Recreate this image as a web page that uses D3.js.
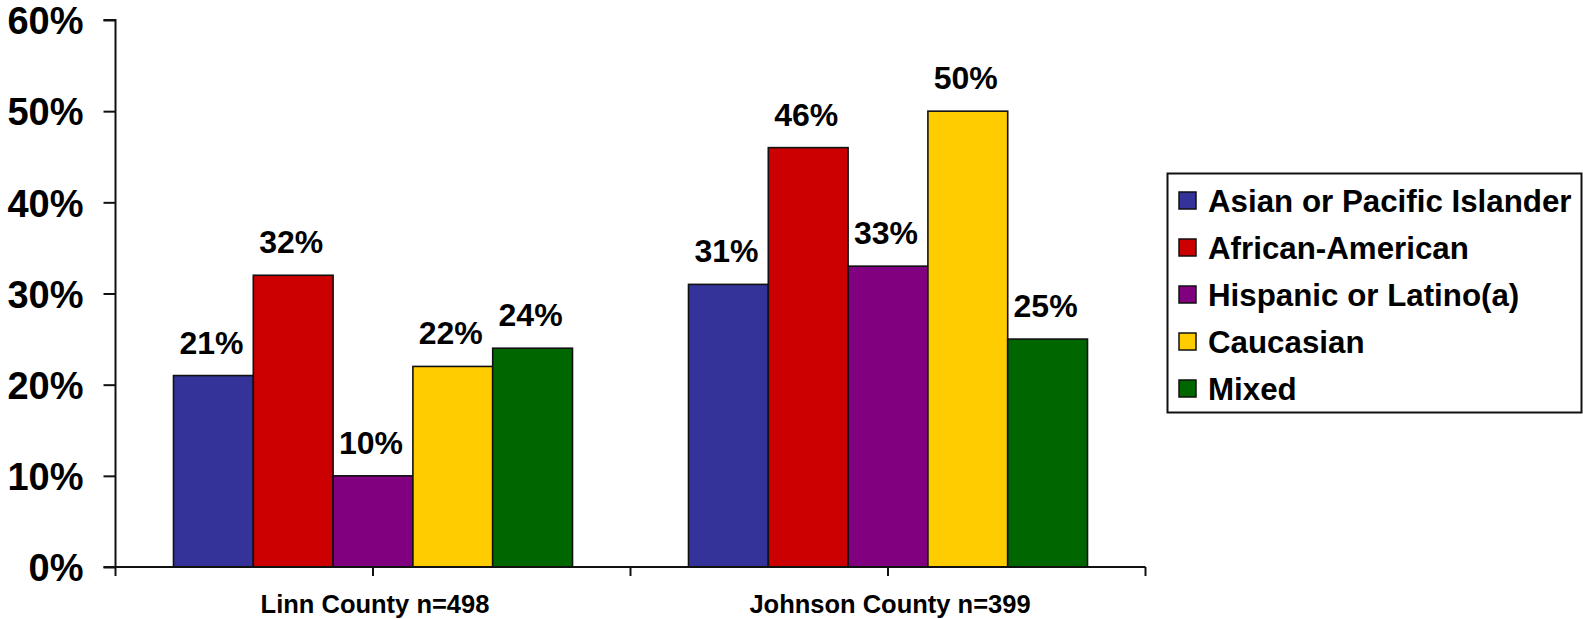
<!DOCTYPE html>
<html>
<head>
<meta charset="utf-8">
<script src="https://cdn.jsdelivr.net/npm/d3@7"></script>
<style>
  html, body { margin: 0; padding: 0; background: #fff; }
  svg { display: block; font-family: "Liberation Sans", Arial, sans-serif; font-weight: bold; }
</style>
</head>
<body>
<svg id="chart" width="1583" height="619"></svg>
<script>
// Groups along the x axis
const counties = ["Linn County n=498", "Johnson County n=399"];
// Series (one bar per group each)
const groups = ["Asian or Pacific Islander", "African-American", "Hispanic or Latino(a)", "Caucasian", "Mixed"];
const groupColors = ["#333399", "#cc0000", "#800080", "#ffcc00", "#006600"];
// Percentages per series, in county order
const asianPI   = [21, 31];
const african   = [32, 46];
const hispanic  = [10, 33];
const caucasian = [22, 50];
const mixed     = [24, 25];
const yTicks = [0, 10, 20, 30, 40, 50, 60];

const seriesValues = [asianPI, african, hispanic, caucasian, mixed];

const svg = d3.select("#chart");

const plot = { left: 115.5, right: 1145.5, top: 20, bottom: 567 };

const x0 = d3.scaleBand().domain(counties).range([plot.left, plot.right]).paddingInner(0).paddingOuter(0);
const groupPad = 58;
const x1 = d3.scaleBand().domain(groups).range([groupPad, x0.bandwidth() - groupPad]).padding(0);
const y = d3.scaleLinear().domain([0, 60]).range([plot.bottom, plot.top]);
const color = d3.scaleOrdinal().domain(groups).range(groupColors);

// Bars
const rows = [];
counties.forEach((c, ci) => {
  groups.forEach((g, gi) => rows.push({ county: c, group: g, value: seriesValues[gi][ci] }));
});

svg.append("g").selectAll("rect")
  .data(rows)
  .join("rect")
  .attr("x", d => x0(d.county) + x1(d.group))
  .attr("y", d => y(d.value))
  .attr("width", x1.bandwidth())
  .attr("height", d => y(0) - y(d.value))
  .attr("fill", d => color(d.group))
  .attr("stroke", "#111")
  .attr("stroke-width", 1.6);

// Value labels above bars
svg.append("g").selectAll("text")
  .data(rows)
  .join("text")
  .attr("x", d => x0(d.county) + x1(d.group) + x1.bandwidth() / 2 - 2)
  .attr("y", d => y(d.value) - 22)
  .attr("text-anchor", "middle")
  .attr("font-size", 32)
  .attr("fill", "#000")
  .text(d => d.value + "%");

// Y axis
const yAxis = d3.axisLeft(y)
  .tickValues(yTicks)
  .tickFormat(d => d + "%")
  .tickSize(12)
  .tickPadding(20);

const yg = svg.append("g")
  .attr("transform", `translate(${plot.left},0)`)
  .call(yAxis);
yg.select(".domain").attr("stroke", "#111").attr("stroke-width", 2).attr("d", `M-12,${plot.top}H0V${plot.bottom}`);
yg.selectAll(".tick line").attr("stroke", "#111").attr("stroke-width", 2);
yg.selectAll(".tick text")
  .attr("font-size", 38)
  .attr("font-family", "\"Liberation Sans\", Arial, sans-serif")
  .attr("font-weight", "bold")
  .attr("fill", "#000")
  .attr("dy", "0.36em");

// X axis: tick marks at group boundaries and centers
const xTickPos = [];
counties.forEach(c => {
  xTickPos.push(x0(c));
  xTickPos.push(x0(c) + x0.bandwidth() / 2);
});
xTickPos.push(plot.right);

const xg = svg.append("g");
xg.append("line")
  .attr("x1", plot.left - 12).attr("x2", plot.right)
  .attr("y1", plot.bottom).attr("y2", plot.bottom)
  .attr("stroke", "#111").attr("stroke-width", 2);
xg.selectAll("line.tick")
  .data(xTickPos)
  .join("line")
  .attr("class", "tick")
  .attr("x1", d => d).attr("x2", d => d)
  .attr("y1", plot.bottom).attr("y2", plot.bottom + 9)
  .attr("stroke", "#111").attr("stroke-width", 2);
xg.selectAll("text")
  .data(counties)
  .join("text")
  .attr("x", d => x0(d) + x0.bandwidth() / 2 + 2)
  .attr("y", 613)
  .attr("text-anchor", "middle")
  .attr("font-size", 25.5)
  .attr("fill", "#000")
  .text(d => d);

// Legend
const legend = svg.append("g");
legend.append("rect")
  .attr("x", 1167.5).attr("y", 173.5)
  .attr("width", 414).attr("height", 239)
  .attr("fill", "#fff")
  .attr("stroke", "#111").attr("stroke-width", 2);

const items = legend.selectAll("g.item")
  .data(groups)
  .join("g")
  .attr("class", "item")
  .attr("transform", (d, i) => `translate(1179, ${201 + i * 47})`);
items.append("rect")
  .attr("x", 0).attr("y", -9)
  .attr("width", 17).attr("height", 17)
  .attr("fill", d => color(d))
  .attr("stroke", "#111").attr("stroke-width", 1.5);
items.append("text")
  .attr("x", 29).attr("y", 0)
  .attr("dy", "0.36em")
  .attr("font-size", 31.3)
  .attr("fill", "#000")
  .text(d => d);
</script>
</body>
</html>
